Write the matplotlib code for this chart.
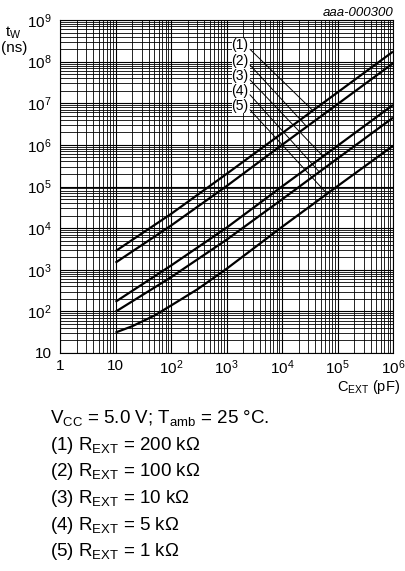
import numpy as np
import matplotlib
matplotlib.use("Agg")
import matplotlib.pyplot as plt
from matplotlib.patches import Rectangle
from matplotlib.ticker import LogLocator, NullFormatter

plt.rcParams['font.family'] = ['Liberation Sans', 'DejaVu Sans']
plt.rcParams['mathtext.fontset'] = 'custom'
plt.rcParams['mathtext.rm'] = 'Liberation Sans'
plt.rcParams['mathtext.it'] = 'Liberation Sans:italic'
plt.rcParams['mathtext.bf'] = 'Liberation Sans:bold'
plt.rcParams['mathtext.default'] = 'regular'

# ---- data (C_EXT in pF, t_W in ns) ----
c_ext = [10, 100, 1e3, 1e4, 1e5, 1e6]
tw_1 = [2800, 21900, 2.0e5, 1.9e6, 1.82e7, 1.74e8]   # R_EXT = 200 kOhm
tw_2 = [1480, 11500, 1.02e5, 1.0e6, 9.5e6, 9.1e7]    # R_EXT = 100 kOhm
tw_3 = [170, 1260, 1.02e4, 1.0e5, 9.5e5, 9.1e6]      # R_EXT = 10 kOhm
tw_4 = [98, 660, 5250, 4.9e4, 4.7e5, 4.5e6]          # R_EXT = 5 kOhm
c_ext_5 = [10, 20, 50, 100, 300, 1e3, 1e4, 1e5, 1e6]
tw_5 = [31, 44, 79, 138, 340, 1050, 1.07e4, 1.02e5, 9.5e5]  # R_EXT = 1 kOhm

curve_labels = ['(1)', '(2)', '(3)', '(4)', '(5)']
leader_c = [3.6e4, 2.8e4, 5.5e4, 4.7e4, 6.5e4]

x_ticks = [1, 10, 1e2, 1e3, 1e4, 1e5, 1e6]
x_tick_labels = ['1', '10', '$10^{2}$', '$10^{3}$', '$10^{4}$', '$10^{5}$', '$10^{6}$']
y_ticks = [10, 1e2, 1e3, 1e4, 1e5, 1e6, 1e7, 1e8, 1e9]
y_tick_labels = ['10', '$10^{2}$', '$10^{3}$', '$10^{4}$', '$10^{5}$',
                 '$10^{6}$', '$10^{7}$', '$10^{8}$', '$10^{9}$']

legend_lines = ['V$_{CC}$ = 5.0 V; T$_{amb}$ = 25 \u00b0C.',
                '(1) R$_{EXT}$ = 200 k\u03a9',
                '(2) R$_{EXT}$ = 100 k\u03a9',
                '(3) R$_{EXT}$ = 10 k\u03a9',
                '(4) R$_{EXT}$ = 5 k\u03a9',
                '(5) R$_{EXT}$ = 1 k\u03a9']

W, H = 405, 571
fig = plt.figure(figsize=(W / 100, H / 100), dpi=100)
ax = fig.add_axes([60 / W, 1 - 353 / H, 333 / W, 333 / H])
ax.set_xscale('log')
ax.set_yscale('log')
ax.set_xlim(1, 1e6)
ax.set_ylim(10, 1e9)

ax.xaxis.set_minor_locator(LogLocator(base=10, subs=np.arange(2, 10), numticks=100))
ax.yaxis.set_minor_locator(LogLocator(base=10, subs=np.arange(2, 10), numticks=100))
ax.xaxis.set_minor_formatter(NullFormatter())
ax.yaxis.set_minor_formatter(NullFormatter())
ax.set_xticks(x_ticks)
ax.set_xticklabels(x_tick_labels)
ax.set_yticks(y_ticks)
ax.set_yticklabels(y_tick_labels)
ax.tick_params(which='both', length=0)
ax.tick_params(axis='x', pad=4, labelsize=11)
ax.tick_params(axis='y', pad=6, labelsize=11)
ax.grid(which='major', color='black', linewidth=0.8)
ax.grid(which='minor', color='black', linewidth=0.6)
ax.set_axisbelow(True)
for s in ax.spines.values():
    s.set_linewidth(0.8)

series = [(c_ext, tw_1), (c_ext, tw_2), (c_ext, tw_3), (c_ext, tw_4), (c_ext_5, tw_5)]
for cx, tw in series:
    ax.plot(cx, tw, color='black', linewidth=1.6, solid_capstyle='butt', zorder=3)

# label box
ax.add_patch(Rectangle((0.5156, 0.7198), 0.055, 0.2252, transform=ax.transAxes,
                       facecolor='white', edgecolor='none', zorder=4))
label_y_px = [45.3, 61.0, 75.8, 90.8, 105.8]
for lab, ly, lc, (cx, tw) in zip(curve_labels, label_y_px, leader_c, series):
    yfrac = (353 - ly) / 333
    ax.text(0.5405, yfrac, lab, transform=ax.transAxes, ha='center', va='center',
            fontsize=10, zorder=5)
    ty = 10 ** np.interp(np.log10(lc), np.log10(cx), np.log10(tw))
    ax.annotate('', xy=(lc, ty), xycoords='data',
                xytext=((250 - 60) / 333, (353 - ly - 4) / 333), textcoords='axes fraction',
                arrowprops=dict(arrowstyle='-', color='black', linewidth=0.7,
                                shrinkA=0, shrinkB=0), zorder=5)

fig.text(393 / W, 1 - 16.5 / H, 'aaa-000300', ha='right', va='baseline',
         fontsize=9.5, style='italic')
fig.text(5 / W, 1 - 36.5 / H, 't$_{W}$', ha='left', va='baseline', fontsize=11)
fig.text(1 / W, 1 - 52 / H, '(ns)', ha='left', va='baseline', fontsize=11)
fig.text(400 / W, 1 - 391 / H, 'C$_{EXT}$ (pF)', ha='right', va='baseline', fontsize=10.5)

base0 = 423.3
step = 26.6
for i, line in enumerate(legend_lines):
    fig.text(50 / W, 1 - (base0 + i * step) / H, line, ha='left', va='baseline',
             fontsize=13.5)

fig.savefig('out.png', dpi=100)
